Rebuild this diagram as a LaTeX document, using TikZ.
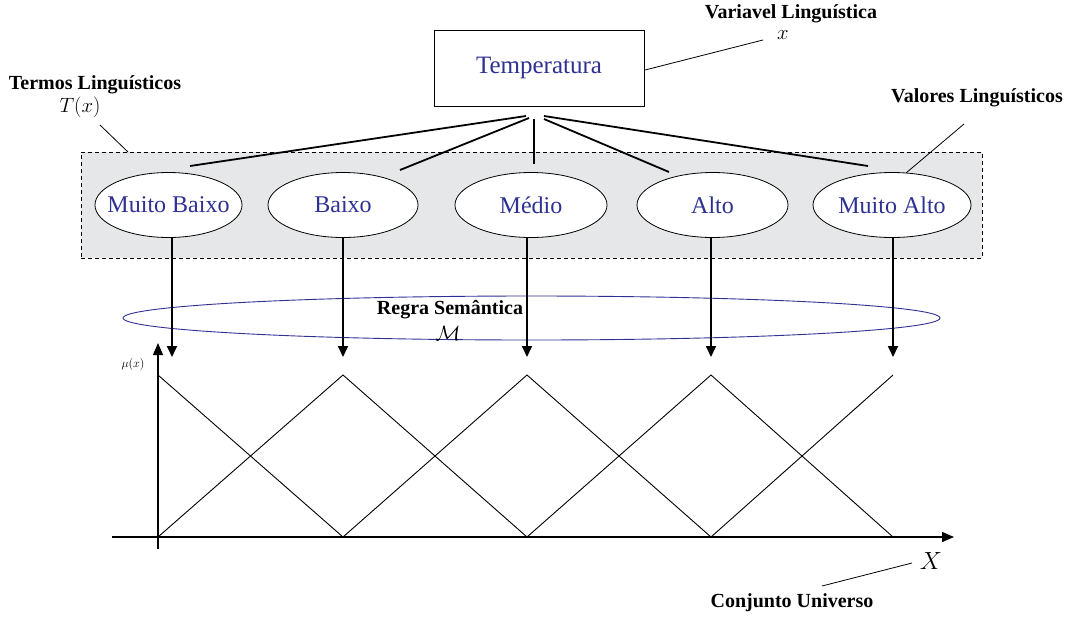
\documentclass[tikz,border=0pt]{standalone}
\usepackage{fontspec}
\setmainfont{Liberation Serif}
\usetikzlibrary{shapes.geometric,arrows.meta}
\definecolor{termblue}{RGB}{46,49,146}
\definecolor{panelgray}{RGB}{230,231,233}
\tikzset{
  term/.style={draw, ellipse, fill=white, line width=0.8pt, inner ysep=0pt, inner xsep=-14pt,
    minimum height=65pt, text=termblue, font=\fontsize{24}{27}\selectfont},
  label/.style={font=\fontsize{20}{24}\selectfont\bfseries, inner sep=0pt},
  mathlbl/.style={font=\fontsize{22}{24}\selectfont, inner sep=0pt},
  tie/.style={line width=1.8pt},
  pointer/.style={line width=0.8pt},
  mapto/.style={line width=1.8pt, -{Triangle[length=11pt,width=10pt]}},
  axis/.style={line width=1.3pt, -{Triangle[length=12pt,width=10pt]}},
  mf/.style={line width=0.9pt}
}
\begin{document}
\begin{tikzpicture}[x=1pt, y=-1pt]
\useasboundingbox (0,0) rectangle (1067,619);

% panel holding the linguistic values
\node[draw, dashed, dash pattern=on 4pt off 3pt, fill=panelgray, line width=0.7pt,
  minimum width=901pt, minimum height=106pt, inner sep=0pt] (panel) at (531.5,205) {};

% linguistic variable
\node[draw, line width=0.9pt, minimum width=210pt, minimum height=76pt, inner sep=0pt,
  text=termblue, font=\fontsize{25}{28}\selectfont] (temp) at (539,68) {Temperatura};

% linguistic terms
\node[term, minimum width=147pt] (mb) at (168.5,205) {Muito Baixo};
\node[term, minimum width=150pt] (b)  at (343,205) {Baixo};
\node[term, minimum width=152pt] (m)  at (531,205) {Médio};
\node[term, minimum width=151pt] (a)  at (712.5,205) {Alto};
\node[term, minimum width=158pt] (ma) at (892,205) {Muito Alto};

% ties from the variable to its terms
\coordinate (h1) at (526,116);
\coordinate (h2) at (529,118);
\coordinate (h3) at (534,119);
\coordinate (h4) at (544,119);
\coordinate (h5) at (544,116);
\coordinate (t1) at (190,166);
\coordinate (t2) at (400,170);
\coordinate (t3) at (534,164);
\coordinate (t4) at (669,172);
\coordinate (t5) at (868,166);
\draw[tie] (h1) -- (t1);
\draw[tie] (h2) -- (t2);
\draw[tie] (h3) -- (t3);
\draw[tie] (h4) -- (t4);
\draw[tie] (h5) -- (t5);

% annotation labels
\node[label] (lv) at (791,14) {Variavel Linguística};
\node[mathlbl, font=\fontsize{20}{22}\selectfont] (lvx) at (783,35) {$x$};
\coordinate (pv) at (645,70);
\coordinate (pv2) at (763,40);
\draw[pointer] (pv) -- (pv2);

\node[label] (lt) at (95,85) {Termos Linguísticos};
\node[mathlbl] (ltx) at (80,107) {$T(x)$};
\coordinate (pt1) at (100,125);
\coordinate (pt2) at (128,152);
\draw[pointer] (pt1) -- (pt2);

\node[label] (lval) at (977,98) {Valores Linguísticos};
\coordinate (pl1) at (964,124);
\coordinate (pl2) at (906,173);
\draw[pointer] (pl1) -- (pl2);

% semantic rule
\node[draw=termblue, ellipse, line width=0.9pt, minimum width=817pt, minimum height=44pt,
  inner sep=0pt] (rule) at (531.5,318) {};
\node[label] (rl) at (450,310) {Regra Semântica};
\node[mathlbl, font=\fontsize{20}{22}\selectfont] (rlm) at (448,333) {$\mathcal{M}$};

% mapping arrows to the membership functions
\coordinate (p1) at (172,357);
\coordinate (p2) at (343,357);
\coordinate (p3) at (527,357);
\coordinate (p4) at (711,357);
\coordinate (p5) at (893,357);
\draw[mapto] (mb.south -| p1) -- (p1);
\draw[mapto] (b.south -| p2) -- (p2);
\draw[mapto] (m.south -| p3) -- (p3);
\draw[mapto] (a.south -| p4) -- (p4);
\draw[mapto] (ma.south -| p5) -- (p5);

% axes
\coordinate (o) at (158,537);
\coordinate (ybot) at (158,549);
\coordinate (ytop) at (158,343);
\coordinate (xleft) at (112,537);
\coordinate (xright) at (954,537);
\draw[axis] (ybot) -- (ytop);
\draw[axis] (xleft) -- (xright);
\node[font=\fontsize{13}{15}\selectfont, inner sep=0pt] (mu) at (133,364) {$\mu(x)$};
\node[mathlbl, font=\fontsize{24}{26}\selectfont] (xu) at (931,561) {$X$};
\node[label] (cu) at (792,603) {Conjunto Universo};
\coordinate (pc1) at (912,563);
\coordinate (pc2) at (822,586);
\draw[pointer] (pc1) -- (pc2);

% membership functions
\draw[mf] (158,375) -- (343,537);
\draw[mf] (158,537) -- (343,375) -- (527,537);
\draw[mf] (343,537) -- (527,375) -- (711,537);
\draw[mf] (527,537) -- (711,375) -- (893,537);
\draw[mf] (711,537) -- (893,375);
\end{tikzpicture}
\end{document}
